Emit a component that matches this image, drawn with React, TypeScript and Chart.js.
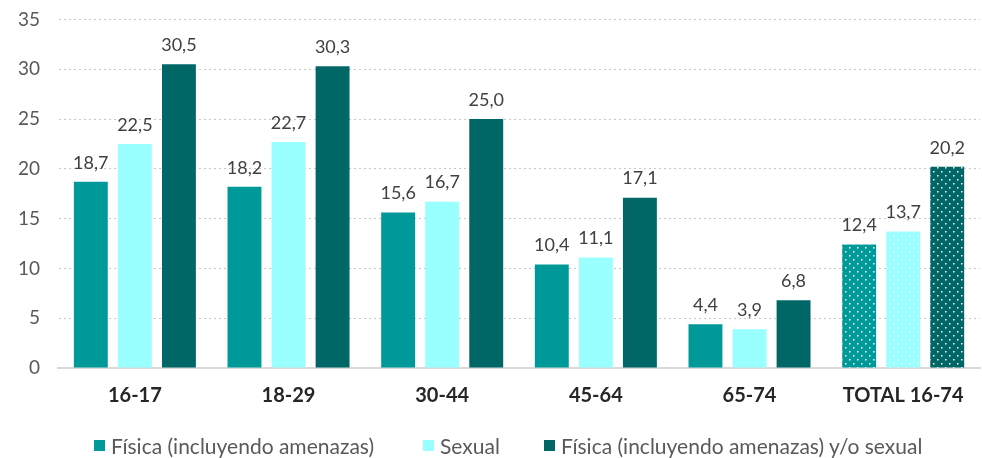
import React, { useEffect, useRef } from "react";
import { Chart, registerables } from "chart.js";

Chart.register(...registerables);

const categories = ["16-17", "18-29", "30-44", "45-64", "65-74", "TOTAL 16-74"];
const fisica = [18.7, 18.2, 15.6, 10.4, 4.4, 12.4];
const sexual = [22.5, 22.7, 16.7, 11.1, 3.9, 13.7];
const ambas = [30.5, 30.3, 25.0, 17.1, 6.8, 20.2];
const seriesNames = [
  "Física (incluyendo amenazas)",
  "Sexual",
  "Física (incluyendo amenazas) y/o sexual",
];
const seriesColors = ["#009999", "#99FFFF", "#006666"];
const yTicks = [0, 5, 10, 15, 20, 25, 30, 35];

const FONT = "Lato, 'Liberation Sans', sans-serif";

function makePattern(color: string): CanvasPattern | string {
  const c = document.createElement("canvas");
  c.width = 8;
  c.height = 8;
  const g = c.getContext("2d");
  if (!g) return color;
  g.fillStyle = color;
  g.fillRect(0, 0, 8, 8);
  g.fillStyle = "rgba(255,255,255,0.95)";
  g.fillRect(1, 1, 1.5, 1.5);
  g.fillRect(5, 5, 1.5, 1.5);
  const p = g.createPattern(c, "repeat");
  return p || color;
}

const valueLabels = {
  id: "valueLabels",
  afterDatasetsDraw(chart: any) {
    const ctx = chart.ctx;
    ctx.save();
    ctx.font = `18px ${FONT}`;
    ctx.fillStyle = "#404040";
    ctx.textAlign = "center";
    ctx.textBaseline = "bottom";
    chart.data.datasets.forEach((ds: any, i: number) => {
      const meta = chart.getDatasetMeta(i);
      meta.data.forEach((bar: any, j: number) => {
        const v = ds.data[j] as number;
        ctx.fillText(v.toFixed(1).replace(".", ","), bar.x, bar.y - 10);
      });
    });
    ctx.restore();
  },
};

export default function App() {
  const ref = useRef<HTMLCanvasElement | null>(null);
  useEffect(() => {
    if (!ref.current) return;
    const datasets = [fisica, sexual, ambas].map((d, i) => {
      const pat = makePattern(seriesColors[i]);
      return {
        label: seriesNames[i],
        data: d,
        backgroundColor: (c: any) =>
          c.dataIndex === categories.length - 1 ? pat : seriesColors[i],
        borderWidth: 0,
        barPercentage: 0.77,
        categoryPercentage: 0.86,
      };
    });
    const chart = new Chart(ref.current, {
      type: "bar",
      data: { labels: categories, datasets: datasets as any },
      options: {
        responsive: false,
        animation: false,
        layout: { padding: { top: 2, right: 2, left: 0, bottom: 34 } },
        plugins: {
          tooltip: { enabled: false },
          legend: { display: false },
        },
        scales: {
          x: {
            grid: { display: false, drawTicks: false },
            border: { color: "#d9d9d9", width: 2 },
            ticks: {
              font: { family: FONT, size: 20, weight: "bold" },
              color: "#262626",
              padding: 16,
            },
          },
          y: {
            min: 0,
            max: 35,
            afterBuildTicks: (axis: any) => {
              axis.ticks = yTicks.map((v) => ({ value: v }));
            },
            grid: {
              color: "#c8c8c8",
              drawTicks: false,
              lineWidth: 1,
            },
            border: { display: true, color: "rgba(0,0,0,0)", dash: [2, 3] },
            ticks: {
              font: { family: FONT, size: 19 },
              color: "#595959",
              padding: 18,
            },
          },
        },
      },
      plugins: [valueLabels],
    });
    return () => chart.destroy();
  }, []);
  const legendLeft = [94, 423, 544];
  return (
    <div style={{ position: "fixed", left: 0, top: 0, width: 982, height: 458, background: "#fff", overflow: "hidden" }}>
      <canvas
        ref={ref}
        width={982}
        height={468}
        style={{ position: "absolute", left: 0, top: -10 }}
      />
      {seriesNames.map((n, i) => (
        <div
          key={n}
          style={{
            position: "absolute",
            left: legendLeft[i],
            top: 433,
            height: 24,
            display: "flex",
            alignItems: "center",
            fontFamily: FONT,
            fontSize: 21,
            color: "#595959",
            whiteSpace: "nowrap",
          }}
        >
          <span
            style={{
              display: "inline-block",
              width: 11,
              height: 11,
              background: seriesColors[i],
              marginRight: 6,
            }}
          />
          {n}
        </div>
      ))}
    </div>
  );
}
